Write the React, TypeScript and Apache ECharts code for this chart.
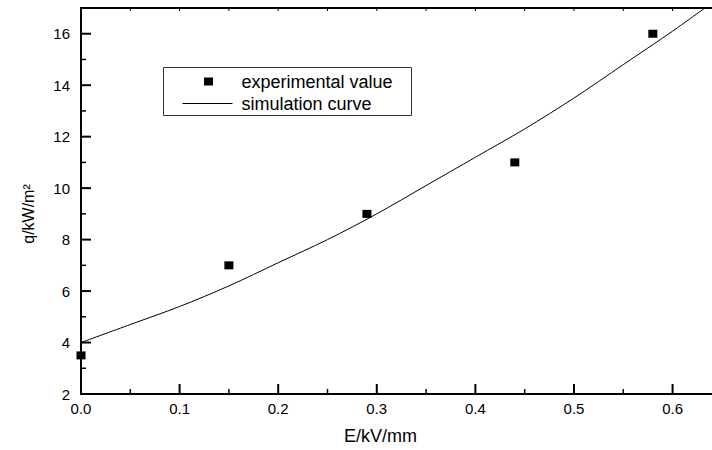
import React, { useEffect, useRef } from "react";
import * as echarts from "echarts";

// Axis ticks
const xMajorTicks = [0, 0.1, 0.2, 0.3, 0.4, 0.5, 0.6];
const xMinorTicks = [0.05, 0.15, 0.25, 0.35, 0.45, 0.55];
const xTopTicks = [0.05, 0.1, 0.15, 0.2, 0.25, 0.3, 0.35, 0.4, 0.45, 0.5, 0.55, 0.6];
const yMajorTicks = [2, 4, 6, 8, 10, 12, 14, 16];
const yMinorTicks = [3, 5, 7, 9, 11, 13, 15];

// Experimental values
const expE = [0.0, 0.15, 0.29, 0.44, 0.58];
const expQ = [3.5, 7.0, 9.0, 11.0, 16.0];

// Simulation curve
const simE = [0, 0.05, 0.1, 0.15, 0.2, 0.25, 0.3, 0.35, 0.4, 0.45, 0.5, 0.55, 0.6, 0.64];
const simQ = [4.0, 4.7, 5.4, 6.2, 7.1, 8.0, 9.0, 10.1, 11.2, 12.3, 13.5, 14.8, 16.1, 17.2];

const legendNames = ["experimental value", "simulation curve"];

const FONT = "Liberation Sans, Arial, sans-serif";
const X_MIN = 0;
const X_MAX = 0.64;
const Y_MIN = 2;
const Y_MAX = 17;

// Tick marks drawn through the axes' own scales (api.coord)
function tickSeries(
  values: number[],
  dir: "x" | "y",
  edge: number,
  len: number,
  width: number
): any {
  return {
    type: "custom",
    xAxisIndex: 0,
    yAxisIndex: 0,
    silent: true,
    clip: false,
    z: 5,
    data: values.map((v) => (dir === "x" ? [v, edge] : [edge, v])),
    renderItem: (_params: any, api: any) => {
      const p = api.coord([api.value(0), api.value(1)]);
      const shape =
        dir === "x"
          ? edge === Y_MIN
            ? { x1: p[0], y1: p[1], x2: p[0], y2: p[1] - len }
            : { x1: p[0], y1: p[1], x2: p[0], y2: p[1] + len }
          : { x1: p[0], y1: p[1], x2: p[0] + len, y2: p[1] };
      return {
        type: "line",
        shape,
        style: { stroke: "#000", lineWidth: width },
      };
    },
  };
}

export default function App() {
  const ref = useRef<HTMLDivElement>(null);

  useEffect(() => {
    document.body.style.margin = "0";
    if (!ref.current) return;
    const chart = echarts.init(ref.current, null, { renderer: "svg" });

    const option: any = {
      animation: false,
      backgroundColor: "#fff",
      grid: { left: 81, top: 8, right: -3, bottom: 55 },
      xAxis: [
        {
          type: "value",
          min: X_MIN,
          max: X_MAX,
          interval: 0.1,
          position: "bottom",
          axisLine: { show: true, lineStyle: { color: "#000", width: 2 } },
          axisTick: { show: false },
          axisLabel: {
            customValues: xMajorTicks,
            formatter: (v: number) => v.toFixed(1),
            color: "#000",
            fontSize: 15,
            fontFamily: FONT,
            margin: 7,
          },
          splitLine: { show: false },
          name: "E/kV/mm",
          nameLocation: "middle",
          nameGap: 33,
          nameTextStyle: {
            color: "#000",
            fontSize: 18,
            fontFamily: FONT,
            padding: [0, 32, 0, 0],
          },
        },
        {
          type: "value",
          min: X_MIN,
          max: X_MAX,
          position: "top",
          axisLine: { show: true, lineStyle: { color: "#000", width: 2 } },
          axisTick: { show: false },
          axisLabel: { show: false },
          splitLine: { show: false },
        },
      ],
      yAxis: [
        {
          type: "value",
          min: Y_MIN,
          max: Y_MAX,
          interval: 2,
          position: "left",
          axisLine: { show: true, lineStyle: { color: "#000", width: 2 } },
          axisTick: { show: false },
          axisLabel: {
            customValues: yMajorTicks,
            color: "#000",
            fontSize: 15,
            fontFamily: FONT,
            margin: 11,
          },
          splitLine: { show: false },
          name: "q/kW/m²",
          nameLocation: "middle",
          nameGap: 45,
          nameTextStyle: {
            color: "#000",
            fontSize: 16,
            fontFamily: FONT,
            padding: [0, 26, 0, 0],
          },
        },
      ],
      series: [
        {
          name: legendNames[1],
          type: "line",
          xAxisIndex: 0,
          yAxisIndex: 0,
          data: simE.map((e, i) => [e, simQ[i]]),
          showSymbol: false,
          smooth: 0.3,
          lineStyle: { color: "#000", width: 1 },
          clip: true,
          z: 3,
        },
        {
          name: legendNames[0],
          type: "scatter",
          xAxisIndex: 0,
          yAxisIndex: 0,
          data: expE.map((e, i) => [e, expQ[i]]),
          symbol: "rect",
          symbolSize: [9, 8],
          itemStyle: { color: "#000", opacity: 1 },
          z: 4,
        },
        tickSeries(xMajorTicks, "x", Y_MIN, 10, 2),
        tickSeries(xMinorTicks, "x", Y_MIN, 5, 1.5),
        tickSeries(xTopTicks, "x", Y_MAX, 3, 1),
        tickSeries(yMajorTicks, "y", X_MIN, 10, 2),
        tickSeries(yMinorTicks, "y", X_MIN, 5, 1.5),
      ],
      graphic: [
        {
          type: "group",
          left: 163,
          top: 67,
          children: [
            {
              type: "rect",
              shape: { x: 0, y: 0, width: 248, height: 48 },
              style: { fill: "#fff", stroke: "#333", lineWidth: 1 },
            },
            {
              type: "rect",
              shape: { x: 40.5, y: 10, width: 9, height: 8 },
              style: { fill: "#000" },
            },
            {
              type: "line",
              shape: { x1: 19, y1: 36, x2: 69, y2: 36 },
              style: { stroke: "#000", lineWidth: 1 },
            },
            {
              type: "text",
              x: 78,
              y: 14,
              style: {
                text: legendNames[0],
                fill: "#000",
                fontSize: 18,
                fontFamily: FONT,
                verticalAlign: "middle",
              },
            },
            {
              type: "text",
              x: 78,
              y: 36,
              style: {
                text: legendNames[1],
                fill: "#000",
                fontSize: 18,
                fontFamily: FONT,
                verticalAlign: "middle",
              },
            },
          ],
        },
      ],
    };

    chart.setOption(option);
    return () => chart.dispose();
  }, []);

  return <div ref={ref} style={{ width: 712, height: 450 }} />;
}
